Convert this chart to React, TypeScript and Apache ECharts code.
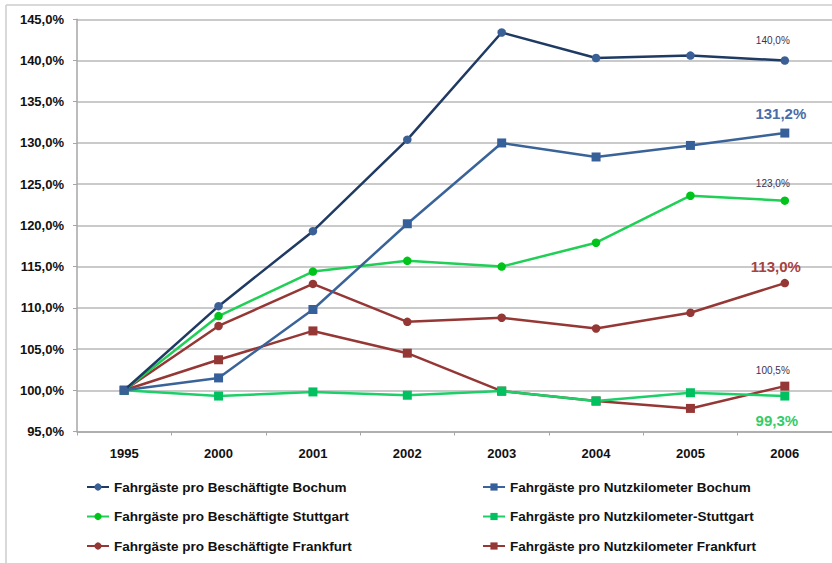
import React, { useEffect, useRef } from "react";
import * as echarts from "echarts";

const years = ["1995", "2000", "2001", "2002", "2003", "2004", "2005", "2006"];

const seriesNames = [
  "Fahrgäste pro Beschäftigte Bochum",
  "Fahrgäste pro Nutzkilometer Bochum",
  "Fahrgäste pro Beschäftigte Stuttgart",
  "Fahrgäste pro Nutzkilometer-Stuttgart",
  "Fahrgäste pro Beschäftigte Frankfurt",
  "Fahrgäste pro Nutzkilometer Frankfurt",
];

const beschBochum = [100, 110.2, 119.3, 130.4, 143.4, 140.3, 140.6, 140.0];
const nutzBochum = [100, 101.5, 109.8, 120.2, 130.0, 128.3, 129.7, 131.2];
const beschStuttgart = [100, 109.0, 114.4, 115.7, 115.0, 117.9, 123.6, 123.0];
const nutzStuttgart = [100, 99.3, 99.8, 99.4, 99.9, 98.7, 99.7, 99.3];
const beschFrankfurt = [100, 107.8, 112.9, 108.3, 108.8, 107.5, 109.4, 113.0];
const nutzFrankfurt = [100, 103.7, 107.2, 104.5, 99.9, 98.7, 97.8, 100.5];

const yTicks = { min: 95, max: 145, interval: 5 };

const fmt = (v: number) => v.toFixed(1).replace(".", ",") + "%";

export default function App() {
  const ref = useRef<HTMLDivElement>(null);

  useEffect(() => {
    if (!ref.current) return;
    const chart = echarts.init(ref.current, null, { renderer: "svg" });
    const font = "'Liberation Sans', Arial, sans-serif";

    const seriesData = [beschBochum, nutzBochum, beschStuttgart, nutzStuttgart, beschFrankfurt, nutzFrankfurt];
    const styles = [
      { line: "#1f3a63", item: "#3b6096", symbol: "circle", size: 8.5,
        label: { position: "top", distance: 11, offset: [-12, 0], fontSize: 10, fontWeight: "normal", color: "#3d3050" } },
      { line: "#3a6499", item: "#36609a", symbol: "rect", size: 9,
        label: { position: "top", distance: 7.5, offset: [-4, 0], fontSize: 15, fontWeight: "bold", color: "#4a6da8" } },
      { line: "#20cf55", item: "#00c41a", symbol: "circle", size: 8.5,
        label: { position: "top", distance: 8, offset: [-12, 0], fontSize: 10, fontWeight: "normal", color: "#3d3050" } },
      { line: "#1dcf68", item: "#00c060", symbol: "rect", size: 9,
        label: { position: "bottom", distance: 12, offset: [-8, 0], fontSize: 15, fontWeight: "bold", color: "#33cc66" } },
      { line: "#953735", item: "#953735", symbol: "circle", size: 8.5,
        label: { position: "top", distance: 4.5, offset: [-9, 0], fontSize: 15, fontWeight: "bold", color: "#a8423f" } },
      { line: "#953735", item: "#953735", symbol: "rect", size: 9,
        label: { position: "top", distance: 6.4, offset: [-12, 0], fontSize: 10, fontWeight: "normal", color: "#3d3050" } },
    ];

    const series = seriesNames.map((name, i) => {
      const st = styles[i];
      const vals = seriesData[i];
      return {
        name,
        type: "line",
        symbol: st.symbol,
        symbolSize: st.size,
        z: 10 - i,
        lineStyle: { color: st.line, width: 2.5 },
        itemStyle: { color: st.item },
        data: vals.map((v, j) =>
          j === vals.length - 1
            ? {
                value: v,
                label: {
                  show: true,
                  formatter: (p: any) => fmt(p.value),
                  fontFamily: font,
                  ...st.label,
                },
              }
            : v
        ),
      };
    });

    const legendLefts = [86, 482];
    const legendRowTops = [479, 508.5, 538];
    const legends = seriesNames.map((name, i) => ({
      orient: "horizontal",
      left: legendLefts[i % 2],
      top: legendRowTops[Math.floor(i / 2)],
      padding: 0,
      itemWidth: 22,
      itemHeight: 9,
      textStyle: { fontFamily: font, fontSize: 13.5, fontWeight: "bold", color: "#111111", lineHeight: 16 },
      selectedMode: false,
      data: [name],
    }));

    chart.setOption({
      animation: false,
      backgroundColor: "#ffffff",
      grid: { left: 77, right: 0, top: 19.3, bottom: 131.5, containLabel: false },
      legend: legends,
      xAxis: {
        type: "category",
        data: years,
        boundaryGap: true,
        axisLine: { show: true, lineStyle: { color: "#a6a6a6", width: 1.5 } },
        axisTick: { show: true, length: 4, alignWithLabel: false, lineStyle: { color: "#a6a6a6", width: 1 } },
        axisLabel: { margin: 15, fontFamily: font, fontSize: 13, fontWeight: "bold", color: "#111111" },
        splitLine: { show: false },
      },
      yAxis: {
        type: "value",
        min: yTicks.min,
        max: yTicks.max,
        interval: yTicks.interval,
        axisLine: { show: true, lineStyle: { color: "#a6a6a6", width: 1.5 } },
        axisTick: { show: true, length: 4, lineStyle: { color: "#a6a6a6", width: 1 } },
        axisLabel: { margin: 13, fontFamily: font, fontSize: 13, fontWeight: "bold", color: "#111111", formatter: (v: number) => fmt(v) },
        splitLine: { show: true, lineStyle: { color: "#b8b8b8", width: 1.5 } },
      },
      graphic: [
        { type: "line", shape: { x1: 6, y1: 5, x2: 832, y2: 5 }, style: { stroke: "#cccccc", lineWidth: 1.5 } },
        { type: "line", shape: { x1: 6, y1: 5, x2: 6, y2: 563 }, style: { stroke: "#cccccc", lineWidth: 1.5 } },
      ],
      series,
    });

    return () => chart.dispose();
  }, []);

  return (
    <div
      ref={ref}
      style={{ position: "absolute", left: 0, top: 0, width: 832, height: 563, background: "#fff" }}
    />
  );
}
